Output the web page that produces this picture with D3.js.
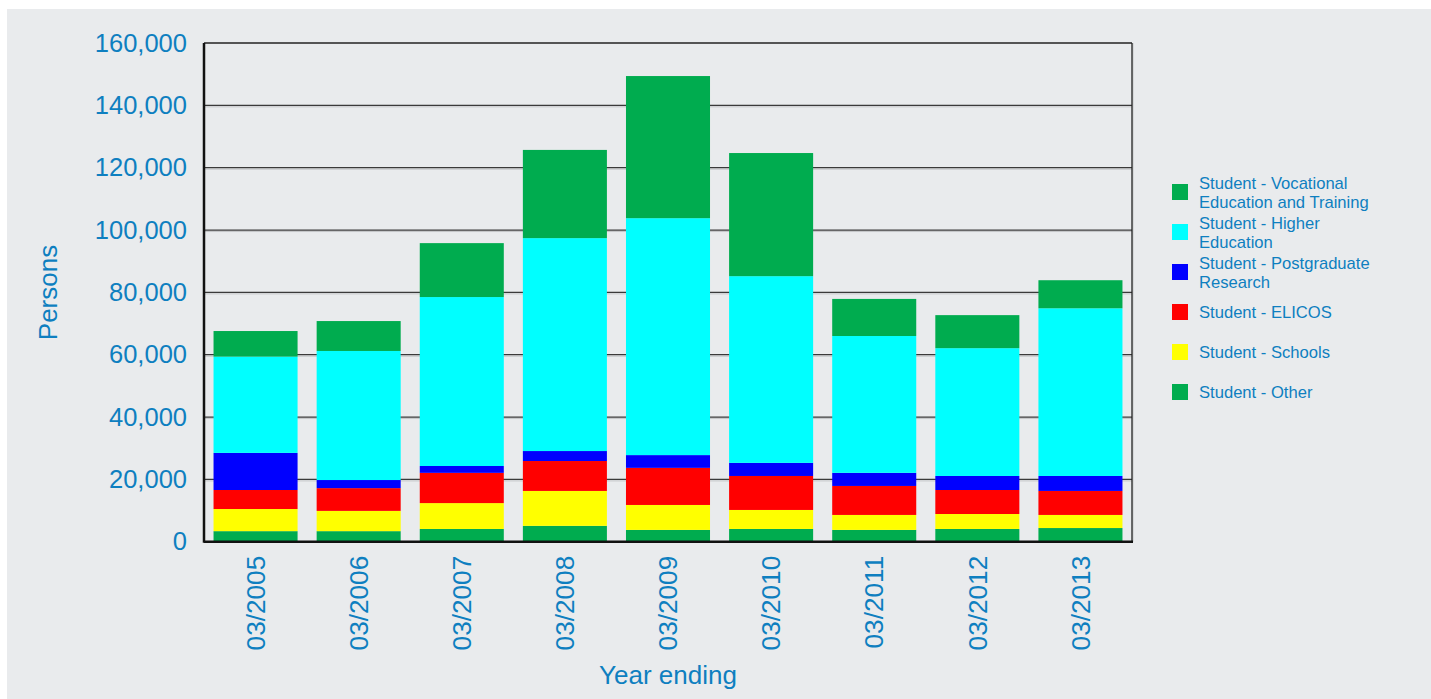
<!DOCTYPE html>
<html>
<head>
<meta charset="utf-8">
<script src="https://cdn.jsdelivr.net/npm/d3@7"></script>
<style>
  html, body { margin: 0; padding: 0; background: #ffffff; }
  svg { display: block; }
  text { font-family: "Liberation Sans", Arial, sans-serif; fill: #0e7fc0; }
</style>
</head>
<body>
<svg id="chart" width="1431" height="699"></svg>
<script>
// ---- data ----
const categories = ["03/2005","03/2006","03/2007","03/2008","03/2009","03/2010","03/2011","03/2012","03/2013"];
const studentOther        = [3400, 3400, 4100, 5100, 3800, 4100, 3800, 4100, 4400];
const studentSchools      = [7100, 6500, 8300, 11200, 8000, 6100, 4800, 4800, 4200];
const studentElicos       = [6100, 7300, 9700, 9600, 11900, 10900, 9300, 7700, 7700];
const studentPostgrad     = [11900, 2600, 2200, 3200, 4100, 4200, 4200, 4500, 4800];
const studentHigherEd     = [30900, 41400, 54200, 68300, 76000, 59900, 43900, 41000, 53800];
const studentVocational   = [8200, 9600, 17300, 28300, 45600, 39500, 11900, 10600, 9000];
const yTicks = [0, 20000, 40000, 60000, 80000, 100000, 120000, 140000, 160000];

const seriesKeys = ["other","schools","elicos","postgrad","higher","vet"];
const seriesNames = {
  vet: ["Student - Vocational", "Education and Training"],
  higher: ["Student - Higher", "Education"],
  postgrad: ["Student - Postgraduate", "Research"],
  elicos: ["Student - ELICOS"],
  schools: ["Student - Schools"],
  other: ["Student - Other"]
};
const colors = {
  other: "#00ac4f", schools: "#ffff00", elicos: "#ff0000",
  postgrad: "#0000ff", higher: "#00ffff", vet: "#00ac4f"
};
const legendOrder = ["vet","higher","postgrad","elicos","schools","other"];

const rows = categories.map((c, i) => ({
  cat: c,
  other: studentOther[i], schools: studentSchools[i], elicos: studentElicos[i],
  postgrad: studentPostgrad[i], higher: studentHigherEd[i], vet: studentVocational[i]
}));

// ---- layout ----
const svg = d3.select("#chart");
const plot = { left: 204, right: 1132, top: 43, bottom: 541.75 };

svg.append("rect").attr("x", 7).attr("y", 9).attr("width", 1431 - 7).attr("height", 699 - 9)
  .attr("fill", "#e9ebed");

const x = d3.scaleBand().domain(categories).range([plot.left, plot.right])
  .paddingInner(0.185).paddingOuter(0.0925);
const y = d3.scaleLinear().domain([0, 160000]).range([plot.bottom, plot.top]);

// gridlines
const grid = svg.append("g");
yTicks.filter(t => t > 0 && t < 160000).forEach(t => {
  grid.append("line").attr("x1", plot.left).attr("x2", plot.right)
    .attr("y1", y(t) + 1.5).attr("y2", y(t) + 1.5)
    .attr("stroke", "#c4c6c8").attr("stroke-width", 1);
  grid.append("line").attr("x1", plot.left).attr("x2", plot.right)
    .attr("y1", y(t)).attr("y2", y(t))
    .attr("stroke", "#3a3a3a").attr("stroke-width", 1.3);
});

// frame top/right
svg.append("line").attr("x1", plot.left).attr("x2", plot.right).attr("y1", plot.top).attr("y2", plot.top)
  .attr("stroke", "#222").attr("stroke-width", 1.3);
svg.append("line").attr("x1", plot.right + 1).attr("x2", plot.right + 1).attr("y1", plot.top).attr("y2", plot.bottom)
  .attr("stroke", "#c4c6c8").attr("stroke-width", 1);
svg.append("line").attr("x1", plot.right).attr("x2", plot.right).attr("y1", plot.top).attr("y2", plot.bottom)
  .attr("stroke", "#222").attr("stroke-width", 1.3);

// bars
const stacked = d3.stack().keys(seriesKeys)(rows);
svg.append("g").selectAll("g").data(stacked).join("g")
  .attr("fill", d => colors[d.key])
  .selectAll("rect").data(d => d).join("rect")
  .attr("x", d => x(d.data.cat))
  .attr("width", x.bandwidth())
  .attr("y", d => y(d[1]))
  .attr("height", d => y(d[0]) - y(d[1]));

// axes (thick left/bottom)
const yAxis = d3.axisLeft(y).tickValues(yTicks).tickSize(0).tickPadding(17)
  .tickFormat(d3.format(","));
const gy = svg.append("g").attr("transform", `translate(${plot.left},0)`).call(yAxis);
gy.select(".domain").remove();
gy.selectAll("text").style("font-size", "25.5px").attr("fill", "#0e7fc0")
  .style("font-family", '"Liberation Sans", Arial, sans-serif');

svg.append("line").attr("x1", plot.left).attr("x2", plot.left).attr("y1", plot.top).attr("y2", plot.bottom + 1)
  .attr("stroke", "#111").attr("stroke-width", 2.5);
svg.append("line").attr("x1", plot.left).attr("x2", plot.right + 1).attr("y1", plot.bottom).attr("y2", plot.bottom)
  .attr("stroke", "#111").attr("stroke-width", 2.5);

const xAxis = d3.axisBottom(x).tickSize(0).tickPadding(0);
const gx = svg.append("g").attr("transform", `translate(0,${plot.bottom})`).call(xAxis);
gx.select(".domain").remove();
gx.selectAll("text")
  .style("font-size", "26.2px").attr("fill", "#0e7fc0")
  .style("font-family", '"Liberation Sans", Arial, sans-serif')
  .attr("text-anchor", "end")
  .attr("transform", "translate(0,14) rotate(-90)")
  .attr("x", 0).attr("y", 0).attr("dy", "0.35em");

// axis titles
svg.append("text").attr("x", (plot.left + plot.right) / 2).attr("y", 684)
  .attr("text-anchor", "middle").style("font-size", "26px").text("Year ending");
svg.append("text").attr("transform", "translate(57,292.5) rotate(-90)")
  .attr("text-anchor", "middle").style("font-size", "26px").text("Persons");

// legend
const lg = svg.append("g");
legendOrder.forEach((k, i) => {
  const top = 184 + i * 40;
  lg.append("rect").attr("x", 1172).attr("y", top).attr("width", 16).attr("height", 16)
    .attr("fill", colors[k]);
  const lines = seriesNames[k];
  const t = lg.append("text").style("font-size", "16.6px");
  if (lines.length === 1) {
    t.append("tspan").attr("x", 1199).attr("y", top + 13.7).text(lines[0]);
  } else {
    t.append("tspan").attr("x", 1199).attr("y", top + 5.3).text(lines[0]);
    t.append("tspan").attr("x", 1199).attr("y", top + 24).text(lines[1]);
  }
});
</script>
</body>
</html>
